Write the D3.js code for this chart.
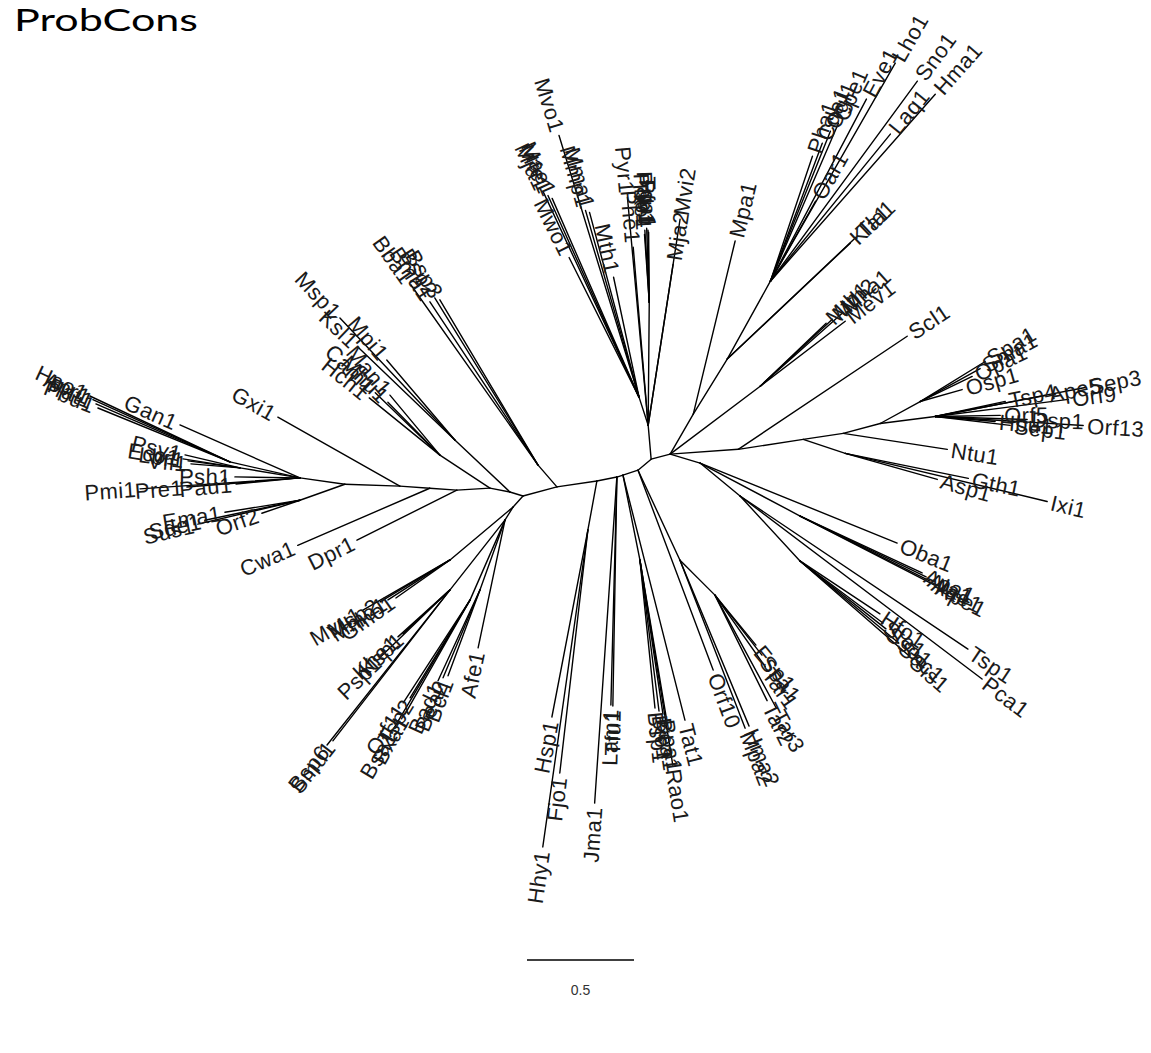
<!DOCTYPE html>
<html>
<head>
<meta charset="utf-8">
<script src="https://cdn.jsdelivr.net/npm/d3@7"></script>
<style>
  body { margin: 0; background: #fff; }
  svg { display: block; }
</style>
</head>
<body>
<script>
// unrooted tree, ProbCons alignment. rows are [name, parent, branch length, branch angle (deg)]
// names starting with '#' are internal nodes

var backbone = [
  ['#A', null, 0, 0],
  ['#B', '#A', 0.164, -15],
  ['#C', '#B', 0.189, -8.5],
  ['#D1', '#C', 0.095, -11],
  ['#D2', '#D1', 0.030, -18],
  ['#E', '#D2', 0.074, -18],
  ['#F', '#E', 0.080, -40],
  ['#G', '#F', 0.092, -15],
  ['#L1', '#A', 0.064, -163],
  ['#L2', '#L1', 0.095, -169],
  ['#DA', '#L2', 0.155, 176.5],
  ['#CA', '#DA', 0.127, -176],
  ['#GX', '#CA', 0.140, -176],
  ['#LC1', '#GX', 0.257, -178],
  ['#LC2', '#LC1', 0.212, -172],
  ['#LL1', '#A', 0.069, 132],
  ['#LL2', '#LL1', 0.071, 122]
];

var upperCentre = [
  ['#U1', '#F', 0.159, -95],
  ['#UM', '#U1', 0.137, -108],
  ['Mvo1', '#UM', 1.280, -107],
  ['Mja1', '#UM', 1.056, -115],
  ['Mfe1', '#UM', 1.035, -114.3],
  ['Mae1', '#UM', 1.015, -113.6],
  ['Mwo1', '#UM', 0.731, -116.6],
  ['Mma1', '#UM', 0.895, -105],
  ['Mmp1', '#UM', 0.909, -106],
  ['Mth1', '#UM', 0.574, -102],
  ['Phe1', '#U1', 0.835, -94.8],
  ['Pyr1', '#U1', 1.070, -95.2],
  ['#UP', '#U1', 0.575, -89.5],
  ['Pho1', '#UP', 0.337, -93.5],
  ['Pab1', '#UP', 0.346, -92],
  ['Pfu1', '#UP', 0.337, -91],
  ['Tko1', '#UP', 0.318, -94],
  ['Tga1', '#UP', 0.327, -90.5],
  ['Mja2', '#U1', 0.761, -81.2],
  ['Mvi2', '#U1', 0.974, -81.2]
];

var upperRight = [
  ['#N1', '#G', 0.216, -60],
  ['Mpa1', '#N1', 0.832, -76.4],
  ['#N2', '#N1', 0.302, -58.3],
  ['Kla1', '#N2', 0.790, -43.3],
  ['Tla1', '#N2', 0.830, -43.4],
  ['#N3', '#N2', 0.416, -61],
  ['Oar1', '#N3', 0.429, -60.6],
  ['Pha1', '#N3', 0.616, -71.4],
  ['Cda1', '#N3', 0.689, -69.4],
  ['Ogl1', '#N3', 0.755, -68.2],
  ['Cpe1', '#N3', 0.804, -66.7],
  ['Eve1', '#N3', 0.962, -62.2],
  ['Lho1', '#N3', 1.174, -60.2],
  ['Laq1', '#N3', 0.887, -50.8],
  ['Sno1', '#N3', 1.160, -53.7],
  ['Hma1', '#N3', 1.165, -48.6],
  ['#M1', '#G', 0.527, -37],
  ['Mtb1', '#M1', 0.426, -43.7],
  ['Mth2', '#M1', 0.460, -42.9],
  ['Mha1', '#M1', 0.513, -41.7],
  ['Mev1', '#M1', 0.500, -37.4]
];

var rightClade = [
  ['#R1', '#G', 0.319, -4],
  ['Scl1', '#R1', 0.950, -33.8],
  ['#R2', '#R1', 0.307, -8.7],
  ['#GA', '#R2', 0.207, 18.4],
  ['Gth1', '#GA', 0.587, 11.5],
  ['Asp1', '#GA', 0.447, 15.8],
  ['Ixi1', '#GA', 0.970, 13.4],
  ['#R3', '#R2', 0.189, -8.5],
  ['Ntu1', '#R3', 0.492, 8.7],
  ['#R4', '#R3', 0.179, -15],
  ['#SP', '#R4', 0.213, -28.8],
  ['Spa1', '#SP', 0.357, -31.6],
  ['Sma1', '#SP', 0.320, -28.8],
  ['Opa1', '#SP', 0.270, -25.7],
  ['Osp1', '#SP', 0.204, -15.9],
  ['#OR', '#R4', 0.259, -7.3],
  ['Tsp4', '#OR', 0.335, -12.1],
  ['Ape5', '#OR', 0.523, -10.8],
  ['Sep3', '#OR', 0.714, -10.9],
  ['Orf9', '#OR', 0.627, -7.3],
  ['Orf13', '#OR', 0.693, 3.5],
  ['Dsp1', '#OR', 0.430, 1.9],
  ['Orf5', '#OR', 0.304, -0.9],
  ['Hbu1', '#OR', 0.281, 4.8],
  ['Sep1', '#OR', 0.353, 6.8]
];

var lowerRight = [
  ['#LR1', '#G', 0.146, 16.7],
  ['Oba1', '#LR1', 0.994, 22.1],
  ['#AP', '#LR1', 0.529, 27.9],
  ['Apa1', '#AP', 0.629, 25.0],
  ['Ala1', '#AP', 0.654, 25.8],
  ['Aae1', '#AP', 0.679, 26.6],
  ['Ape1', '#AP', 0.704, 27.2],
  ['#LR2', '#LR1', 0.242, 39.5],
  ['Tsp1', '#LR2', 1.283, 33.9],
  ['Pca1', '#LR2', 1.418, 37.1],
  ['#SS', '#LR2', 0.413, 47.3],
  ['Hfo1', '#SS', 0.448, 33.5],
  ['Sto1', '#SS', 0.484, 36.8],
  ['Sso1', '#SS', 0.512, 38.3],
  ['Sac1', '#SS', 0.600, 39.7],
  ['Sis1', '#SS', 0.680, 41.0]
];

var lowerCentre = [
  ['#MH', '#E', 0.464, 65],
  ['Mpa2', '#MH', 0.842, 68.8],
  ['Hma2', '#MH', 0.840, 67.4],
  ['#ES', '#MH', 0.231, 45],
  ['Esp1', '#ES', 0.302, 50.6],
  ['Ssa1', '#ES', 0.356, 51.9],
  ['Tar1', '#ES', 0.410, 54.9],
  ['Tar2', '#ES', 0.550, 63.7],
  ['Tar3', '#ES', 0.600, 61.5],
  ['Orf10', '#E', 0.998, 69.4],
  ['Tat1', '#D2', 1.181, 75.8],
  ['#BS', '#D2', 0.405, 78.7],
  ['Bsp1', '#BS', 0.695, 84.2],
  ['Bjo1', '#BS', 0.711, 82.8],
  ['Bea1', '#BS', 0.728, 81.5],
  ['Bpa1', '#BS', 0.739, 80.5],
  ['Rao1', '#BS', 0.970, 80.9],
  ['Tfu1', '#D1', 1.070, 91],
  ['Lam1', '#D1', 1.066, 91.5],
  ['Jma1', '#D1', 1.527, 93.9],
  ['#HS', '#C', 0.233, 100.4],
  ['Hsp1', '#HS', 0.890, 100.9],
  ['Fjo1', '#HS', 1.143, 96.6],
  ['Hhy1', '#HS', 1.496, 98.1]
];

var lowerLeft = [
  ['#MV', '#LL1', 0.385, 140],
  ['Mvu1', '#MV', 0.470, 150],
  ['Msp2', '#MV', 0.381, 149],
  ['Mmo1', '#MV', 0.345, 147.2],
  ['Gmo1', '#MV', 0.309, 144.9],
  ['#PS', '#LL2', 0.416, 128.2],
  ['Psp1', '#PS', 0.450, 136],
  ['Khe1', '#PS', 0.328, 137.9],
  ['Ksp1', '#PS', 0.301, 136.9],
  ['Bsp6', '#PS', 0.925, 128.4],
  ['Smu1', '#PS', 0.893, 127.8],
  ['#OT', '#LL2', 0.408, 113.6],
  ['Orf11', '#OT', 0.574, 123],
  ['Tsp2', '#OT', 0.537, 121.5],
  ['Bsa1', '#OT', 0.700, 120.7],
  ['Bxa1', '#OT', 0.613, 119.7],
  ['#BA', '#LL2', 0.347, 109.7],
  ['Bad1', '#BA', 0.468, 114.8],
  ['Bea2', '#BA', 0.446, 112.8],
  ['Bcl1', '#BA', 0.429, 110.4],
  ['Afe1', '#LL2', 0.611, 101.9]
];

var upperLeft = [
  ['#MS', '#L1', 0.354, -136.6],
  ['Msp1', '#MS', 0.783, -133.3],
  ['Ksl1', '#MS', 0.628, -136.2],
  ['Mpi1', '#MS', 0.491, -130.4],
  ['#MC', '#L2', 0.280, -146.6],
  ['Man1', '#MC', 0.365, -129.8],
  ['Cam1', '#MC', 0.420, -136],
  ['Hch1', '#MC', 0.425, -141],
  ['Mhu1', '#MC', 0.347, -134.5],
  ['#BB', '#B', 0.136, -130.8],
  ['Bba1', '#BB', 1.030, -125.2],
  ['Bma1', '#BB', 0.914, -123.5],
  ['Bsp2', '#BB', 0.917, -121.7],
  ['Bsp3', '#BB', 0.897, -120.7],
  ['Dpr1', '#DA', 0.522, 153.4],
  ['Cwa1', '#CA', 0.672, 156.6],
  ['Gxi1', '#GX', 0.655, -150.5]
];

var leftClade = [
  ['#LG', '#LC1', 0.223, 160.4],
  ['Orf2', '#LG', 0.188, 161.1],
  ['Ema1', '#LG', 0.355, 170.9],
  ['Sde1', '#LG', 0.454, 168.1],
  ['Sus1', '#LG', 0.490, 166.8],
  ['Gan1', '#LC2', 0.613, -156.2],
  ['#AG', '#LC2', 0.336, -167.1],
  ['Apr1', '#AG', 0.703, -155.6],
  ['Hao1', '#AG', 0.723, -154.8],
  ['Pat1', '#AG', 0.682, -156.6],
  ['Pbu1', '#AG', 0.666, -157.8],
  ['#PE', '#LC2', 0.284, -170.5],
  ['Psy1', '#PE', 0.264, -166.7],
  ['Eco1', '#PE', 0.270, -171],
  ['Lbr1', '#PE', 0.245, -172.3],
  ['Vfi1', '#PE', 0.230, -175.3],
  ['Psh1', '#LC2', 0.304, -179.1],
  ['Pau1', '#LC2', 0.300, 174.6],
  ['Pre1', '#LC2', 0.530, 175.4],
  ['Pmi1', '#LC2', 0.749, 176.1]
];

var scaleBarValue = 0.5;
var title = 'ProbCons';

var width = 1151, height = 1053,
    unit_px = 214,
    label_font = 22,
    label_gap = 4;

var svg = d3.select('body').append('svg')
    .attr('width', width).attr('height', height);

var x = d3.scaleLinear().domain([0, 1]).range([523, 523 + unit_px]),
    y = d3.scaleLinear().domain([0, 1]).range([496, 496 + unit_px]);

var rows = [].concat(backbone, upperCentre, upperRight, rightClade,
                     lowerRight, lowerCentre, lowerLeft, upperLeft, leftClade);

var nodes = new Map();
rows.forEach(function(r) {
  nodes.set(r[0], { name: r[0], parent: r[1], len: r[2], ang: r[3] });
});

function place(n) {
  if(n.ux !== undefined) return;
  if(!n.parent) { n.ux = 0; n.uy = 0; return; }
  var p = nodes.get(n.parent);
  place(p);
  var a = n.ang * Math.PI / 180;
  n.ux = p.ux + n.len * Math.cos(a);
  n.uy = p.uy + n.len * Math.sin(a);
}
nodes.forEach(place);

var list = Array.from(nodes.values());
var edges = list.filter(function(n) { return n.parent; });
var leaves = list.filter(function(n) { return n.name.charAt(0) !== '#'; });

function pointsRight(d) { return Math.cos(d.ang * Math.PI / 180) >= 0; }

svg.append('g')
  .selectAll('line')
  .data(edges)
  .join('line')
    .attr('x1', function(d) { return x(nodes.get(d.parent).ux); })
    .attr('y1', function(d) { return y(nodes.get(d.parent).uy); })
    .attr('x2', function(d) { return x(d.ux); })
    .attr('y2', function(d) { return y(d.uy); })
    .attr('stroke', '#000')
    .attr('stroke-width', 1.4)
    .attr('stroke-linecap', 'round');

svg.append('g')
  .selectAll('text')
  .data(leaves)
  .join('text')
    .attr('transform', function(d) {
      var a = d.ang * Math.PI / 180,
          tx = x(d.ux) + label_gap * Math.cos(a),
          ty = y(d.uy) + label_gap * Math.sin(a),
          rot = pointsRight(d) ? d.ang : d.ang + 180;
      return 'translate(' + tx + ',' + ty + ') rotate(' + rot + ')';
    })
    .attr('text-anchor', function(d) { return pointsRight(d) ? 'start' : 'end'; })
    .attr('dy', '0.36em')
    .attr('font-family', '"Liberation Sans", Arial, sans-serif')
    .attr('font-size', label_font)
    .attr('letter-spacing', 0.4)
    .attr('fill', '#1a1a1a')
    .text(function(d) { return d.name; });

// scale bar
var bar_x = 527, bar_y = 960,
    bar_len = x(scaleBarValue) - x(0);

svg.append('line')
    .attr('x1', bar_x).attr('x2', bar_x + bar_len)
    .attr('y1', bar_y).attr('y2', bar_y)
    .attr('stroke', '#000').attr('stroke-width', 1.4);

svg.append('text')
    .attr('x', bar_x + bar_len / 2).attr('y', bar_y + 35)
    .attr('text-anchor', 'middle')
    .attr('font-family', '"Liberation Sans", Arial, sans-serif')
    .attr('font-size', 14)
    .attr('fill', '#333')
    .text(scaleBarValue);

svg.append('text')
    .attr('x', 14).attr('y', 31)
    .attr('font-family', 'Lato, "Open Sans", sans-serif')
    .attr('font-size', 31)
    .attr('textLength', 184)
    .attr('lengthAdjust', 'spacingAndGlyphs')
    .attr('fill', '#000')
    .text(title);
</script>
</body>
</html>
